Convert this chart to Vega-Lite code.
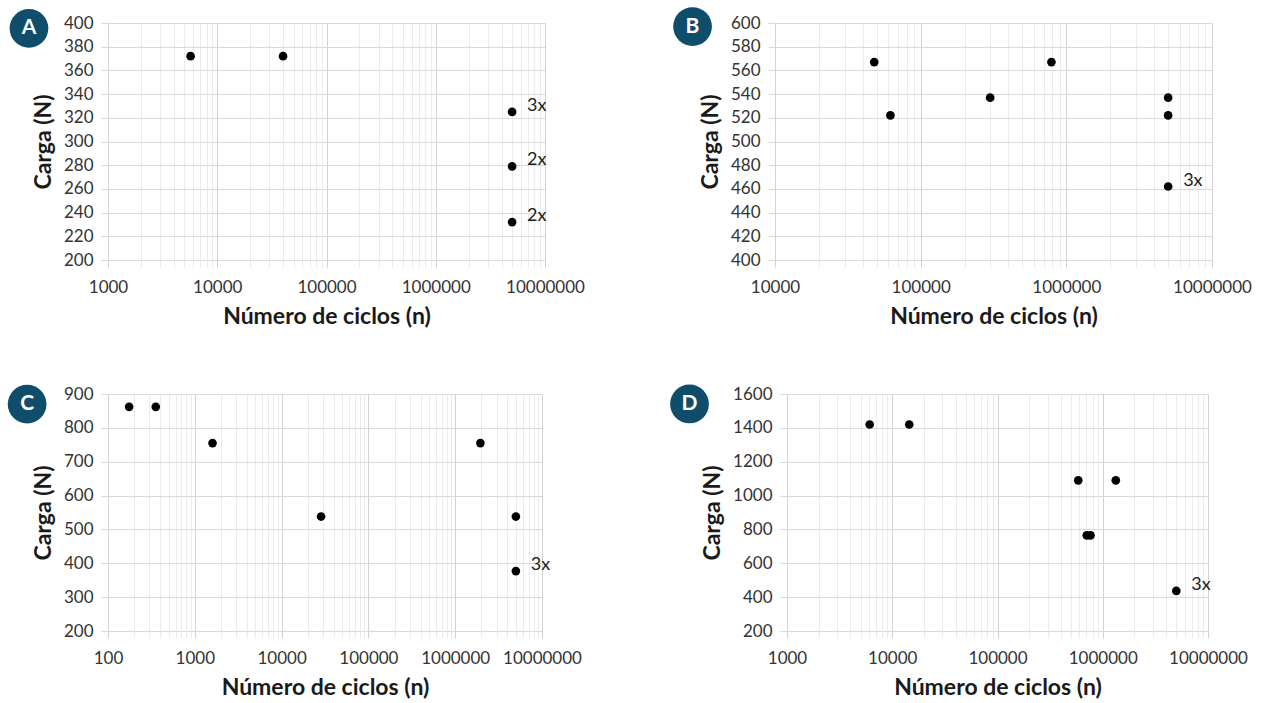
{
  "$schema": "https://vega.github.io/schema/vega-lite/v6.json",
  "padding": {"left": 7, "top": 7, "right": 5, "bottom": 5},
  "background": "white",
  "config": {
    "view": {"stroke": null},
    "font": "Lato",
    "axis": {
      "labelFont": "Lato",
      "labelFontSize": 17,
      "labelColor": "#333333",
      "titleFont": "Lato",
      "titleFontSize": 23,
      "titleFontWeight": "bold",
      "titleColor": "#1a1a1a",
      "domain": false,
      "grid": true,
      "tickSize": 7,
      "labelFlush": false,
      "labelOverlap": false,
      "labelBound": false
    },
    "axisX": {"labelPadding": 12, "titlePadding": 10},
    "axisY": {"labelPadding": 8, "titlePadding": 8, "gridColor": "#d9d9d9", "tickColor": "#d9d9d9", "format": "d"}
  },
  "datasets": {
    "pts": [
      {"panel": "A", "n": 5700, "carga": 372},
      {"panel": "A", "n": 40000, "carga": 372},
      {"panel": "A", "n": 5000000, "carga": 325, "rep": "3x"},
      {"panel": "A", "n": 5000000, "carga": 279, "rep": "2x"},
      {"panel": "A", "n": 5000000, "carga": 232, "rep": "2x"},
      {"panel": "B", "n": 48000, "carga": 567},
      {"panel": "B", "n": 62000, "carga": 522},
      {"panel": "B", "n": 300000, "carga": 537},
      {"panel": "B", "n": 790000, "carga": 567},
      {"panel": "B", "n": 5000000, "carga": 537},
      {"panel": "B", "n": 5000000, "carga": 522},
      {"panel": "B", "n": 5000000, "carga": 462, "rep": "3x"},
      {"panel": "C", "n": 175, "carga": 862},
      {"panel": "C", "n": 355, "carga": 862},
      {"panel": "C", "n": 1600, "carga": 755},
      {"panel": "C", "n": 28500, "carga": 538},
      {"panel": "C", "n": 1950000, "carga": 755},
      {"panel": "C", "n": 5000000, "carga": 538},
      {"panel": "C", "n": 5000000, "carga": 377, "rep": "3x"},
      {"panel": "D", "n": 6100, "carga": 1420},
      {"panel": "D", "n": 14500, "carga": 1420},
      {"panel": "D", "n": 585000, "carga": 1090},
      {"panel": "D", "n": 1330000, "carga": 1090},
      {"panel": "D", "n": 705000, "carga": 765},
      {"panel": "D", "n": 765000, "carga": 765},
      {"panel": "D", "n": 5000000, "carga": 437, "rep": "3x"}
    ]
  },
  "spacing": 56,
  "vconcat": [
    {
      "spacing": 88,
      "hconcat": [
        {
          "width": 437,
          "height": 237,
          "data": {"name": "pts"},
          "encoding": {
            "x": {"field": "n", "type": "quantitative", "scale": {"type": "log", "domain": [1000, 10000000], "nice": false},
              "axis": {"title": "Número de ciclos (n)",
                "values": [1000,2000,3000,4000,5000,6000,7000,8000,9000,10000,20000,30000,40000,50000,60000,70000,80000,90000,100000,200000,300000,400000,500000,600000,700000,800000,900000,1000000,2000000,3000000,4000000,5000000,6000000,7000000,8000000,9000000,10000000],
                "labelExpr": "abs(log(datum.value)/LN10 - round(log(datum.value)/LN10)) < 0.001 ? format(datum.value, 'd') : ''",
                "gridColor": {"condition": {"test": "abs(log(datum.value)/LN10 - round(log(datum.value)/LN10)) < 0.001", "value": "#d2d2d2"}, "value": "#ebebeb"},
                "tickColor": {"condition": {"test": "abs(log(datum.value)/LN10 - round(log(datum.value)/LN10)) < 0.001", "value": "#d2d2d2"}, "value": "#ebebeb"}}},
            "y": {"field": "carga", "type": "quantitative", "scale": {"domain": [200, 400], "nice": false, "zero": false},
              "axis": {"title": "Carga (N)", "values": [200,220,240,260,280,300,320,340,360,380,400]}}
          },
          "layer": [
            {
              "transform": [{"filter": "datum.panel === 'A'"}],
              "mark": {"type": "point", "filled": true, "size": 75, "color": "black", "opacity": 1}
            },
            {
              "transform": [{"filter": "datum.panel === 'A' && datum.rep"}],
              "mark": {"type": "text", "align": "left", "baseline": "middle", "dx": 15, "dy": -6, "fontSize": 18, "font": "Lato", "color": "#222222"},
              "encoding": {"text": {"field": "rep"}}
            },
            {
              "transform": [{"filter": "datum.panel === 'A'"}, {"aggregate": [{"op": "min", "field": "n", "as": "n"}, {"op": "min", "field": "carga", "as": "carga"}], "groupby": ["panel"]}],
              "mark": {"type": "point", "filled": true, "size": 1500, "color": "#0f4d6b", "opacity": 1},
              "encoding": {"x": {"datum": 189, "type": "quantitative"}, "y": {"datum": 395.5, "type": "quantitative"}}
            },
            {
              "transform": [{"filter": "datum.panel === 'A'"}, {"aggregate": [{"op": "min", "field": "n", "as": "n"}, {"op": "min", "field": "carga", "as": "carga"}], "groupby": ["panel"]}],
              "mark": {"type": "text", "align": "center", "baseline": "middle", "fontSize": 21, "fontWeight": "bold", "font": "Lato", "color": "white"},
              "encoding": {"x": {"datum": 189, "type": "quantitative"}, "y": {"datum": 395.5, "type": "quantitative"}, "text": {"field": "panel"}}
            }
          ]
        },
        {
          "width": 437,
          "height": 237,
          "data": {"name": "pts"},
          "encoding": {
            "x": {"field": "n", "type": "quantitative", "scale": {"type": "log", "domain": [10000, 10000000], "nice": false},
              "axis": {"title": "Número de ciclos (n)",
                "values": [10000,20000,30000,40000,50000,60000,70000,80000,90000,100000,200000,300000,400000,500000,600000,700000,800000,900000,1000000,2000000,3000000,4000000,5000000,6000000,7000000,8000000,9000000,10000000],
                "labelExpr": "abs(log(datum.value)/LN10 - round(log(datum.value)/LN10)) < 0.001 ? format(datum.value, 'd') : ''",
                "gridColor": {"condition": {"test": "abs(log(datum.value)/LN10 - round(log(datum.value)/LN10)) < 0.001", "value": "#d2d2d2"}, "value": "#ebebeb"},
                "tickColor": {"condition": {"test": "abs(log(datum.value)/LN10 - round(log(datum.value)/LN10)) < 0.001", "value": "#d2d2d2"}, "value": "#ebebeb"}}},
            "y": {"field": "carga", "type": "quantitative", "scale": {"domain": [400, 600], "nice": false, "zero": false},
              "axis": {"title": "Carga (N)", "values": [400,420,440,460,480,500,520,540,560,580,600]}}
          },
          "layer": [
            {
              "transform": [{"filter": "datum.panel === 'B'"}],
              "mark": {"type": "point", "filled": true, "size": 75, "color": "black", "opacity": 1}
            },
            {
              "transform": [{"filter": "datum.panel === 'B' && datum.rep"}],
              "mark": {"type": "text", "align": "left", "baseline": "middle", "dx": 15, "dy": -6, "fontSize": 18, "font": "Lato", "color": "#222222"},
              "encoding": {"text": {"field": "rep"}}
            },
            {
              "transform": [{"filter": "datum.panel === 'B'"}, {"aggregate": [{"op": "min", "field": "n", "as": "n"}, {"op": "min", "field": "carga", "as": "carga"}], "groupby": ["panel"]}],
              "mark": {"type": "point", "filled": true, "size": 1500, "color": "#0f4d6b", "opacity": 1},
              "encoding": {"x": {"datum": 2716, "type": "quantitative"}, "y": {"datum": 597, "type": "quantitative"}}
            },
            {
              "transform": [{"filter": "datum.panel === 'B'"}, {"aggregate": [{"op": "min", "field": "n", "as": "n"}, {"op": "min", "field": "carga", "as": "carga"}], "groupby": ["panel"]}],
              "mark": {"type": "text", "align": "center", "baseline": "middle", "fontSize": 21, "fontWeight": "bold", "font": "Lato", "color": "white"},
              "encoding": {"x": {"datum": 2716, "type": "quantitative"}, "y": {"datum": 597, "type": "quantitative"}, "text": {"field": "panel"}}
            }
          ]
        }
      ]
    },
    {
      "spacing": 88,
      "hconcat": [
        {
          "width": 434,
          "height": 237,
          "data": {"name": "pts"},
          "encoding": {
            "x": {"field": "n", "type": "quantitative", "scale": {"type": "log", "domain": [100, 10000000], "nice": false},
              "axis": {"title": "Número de ciclos (n)",
                "values": [100,200,300,400,500,600,700,800,900,1000,2000,3000,4000,5000,6000,7000,8000,9000,10000,20000,30000,40000,50000,60000,70000,80000,90000,100000,200000,300000,400000,500000,600000,700000,800000,900000,1000000,2000000,3000000,4000000,5000000,6000000,7000000,8000000,9000000,10000000],
                "labelExpr": "abs(log(datum.value)/LN10 - round(log(datum.value)/LN10)) < 0.001 ? format(datum.value, 'd') : ''",
                "gridColor": {"condition": {"test": "abs(log(datum.value)/LN10 - round(log(datum.value)/LN10)) < 0.001", "value": "#d2d2d2"}, "value": "#ebebeb"},
                "tickColor": {"condition": {"test": "abs(log(datum.value)/LN10 - round(log(datum.value)/LN10)) < 0.001", "value": "#d2d2d2"}, "value": "#ebebeb"}}},
            "y": {"field": "carga", "type": "quantitative", "scale": {"domain": [200, 900], "nice": false, "zero": false},
              "axis": {"title": "Carga (N)", "values": [200,300,400,500,600,700,800,900]}}
          },
          "layer": [
            {
              "transform": [{"filter": "datum.panel === 'C'"}],
              "mark": {"type": "point", "filled": true, "size": 75, "color": "black", "opacity": 1}
            },
            {
              "transform": [{"filter": "datum.panel === 'C' && datum.rep"}],
              "mark": {"type": "text", "align": "left", "baseline": "middle", "dx": 15, "dy": -6, "fontSize": 18, "font": "Lato", "color": "#222222"},
              "encoding": {"text": {"field": "rep"}}
            },
            {
              "transform": [{"filter": "datum.panel === 'C'"}, {"aggregate": [{"op": "min", "field": "n", "as": "n"}, {"op": "min", "field": "carga", "as": "carga"}], "groupby": ["panel"]}],
              "mark": {"type": "point", "filled": true, "size": 1500, "color": "#0f4d6b", "opacity": 1},
              "encoding": {"x": {"datum": 11.7, "type": "quantitative"}, "y": {"datum": 870, "type": "quantitative"}}
            },
            {
              "transform": [{"filter": "datum.panel === 'C'"}, {"aggregate": [{"op": "min", "field": "n", "as": "n"}, {"op": "min", "field": "carga", "as": "carga"}], "groupby": ["panel"]}],
              "mark": {"type": "text", "align": "center", "baseline": "middle", "fontSize": 21, "fontWeight": "bold", "font": "Lato", "color": "white"},
              "encoding": {"x": {"datum": 11.7, "type": "quantitative"}, "y": {"datum": 870, "type": "quantitative"}, "text": {"field": "panel"}}
            }
          ]
        },
        {
          "width": 421,
          "height": 237,
          "data": {"name": "pts"},
          "encoding": {
            "x": {"field": "n", "type": "quantitative", "scale": {"type": "log", "domain": [1000, 10000000], "nice": false},
              "axis": {"title": "Número de ciclos (n)",
                "values": [1000,2000,3000,4000,5000,6000,7000,8000,9000,10000,20000,30000,40000,50000,60000,70000,80000,90000,100000,200000,300000,400000,500000,600000,700000,800000,900000,1000000,2000000,3000000,4000000,5000000,6000000,7000000,8000000,9000000,10000000],
                "labelExpr": "abs(log(datum.value)/LN10 - round(log(datum.value)/LN10)) < 0.001 ? format(datum.value, 'd') : ''",
                "gridColor": {"condition": {"test": "abs(log(datum.value)/LN10 - round(log(datum.value)/LN10)) < 0.001", "value": "#d2d2d2"}, "value": "#ebebeb"},
                "tickColor": {"condition": {"test": "abs(log(datum.value)/LN10 - round(log(datum.value)/LN10)) < 0.001", "value": "#d2d2d2"}, "value": "#ebebeb"}}},
            "y": {"field": "carga", "type": "quantitative", "scale": {"domain": [200, 1600], "nice": false, "zero": false},
              "axis": {"title": "Carga (N)", "values": [200,400,600,800,1000,1200,1400,1600]}}
          },
          "layer": [
            {
              "transform": [{"filter": "datum.panel === 'D'"}],
              "mark": {"type": "point", "filled": true, "size": 75, "color": "black", "opacity": 1}
            },
            {
              "transform": [{"filter": "datum.panel === 'D' && datum.rep"}],
              "mark": {"type": "text", "align": "left", "baseline": "middle", "dx": 15, "dy": -6, "fontSize": 18, "font": "Lato", "color": "#222222"},
              "encoding": {"text": {"field": "rep"}}
            },
            {
              "transform": [{"filter": "datum.panel === 'D'"}, {"aggregate": [{"op": "min", "field": "n", "as": "n"}, {"op": "min", "field": "carga", "as": "carga"}], "groupby": ["panel"]}],
              "mark": {"type": "point", "filled": true, "size": 1500, "color": "#0f4d6b", "opacity": 1},
              "encoding": {"x": {"datum": 118.5, "type": "quantitative"}, "y": {"datum": 1541, "type": "quantitative"}}
            },
            {
              "transform": [{"filter": "datum.panel === 'D'"}, {"aggregate": [{"op": "min", "field": "n", "as": "n"}, {"op": "min", "field": "carga", "as": "carga"}], "groupby": ["panel"]}],
              "mark": {"type": "text", "align": "center", "baseline": "middle", "fontSize": 21, "fontWeight": "bold", "font": "Lato", "color": "white"},
              "encoding": {"x": {"datum": 118.5, "type": "quantitative"}, "y": {"datum": 1541, "type": "quantitative"}, "text": {"field": "panel"}}
            }
          ]
        }
      ]
    }
  ]
}
